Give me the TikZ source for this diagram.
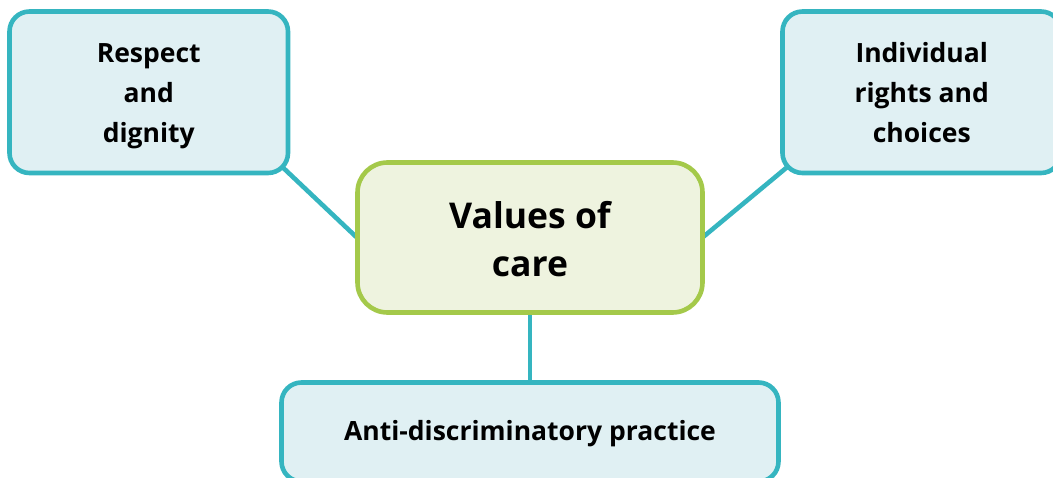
\documentclass[tikz,border=0pt]{standalone}
\usepackage{fontspec}
\setmainfont{Open Sans}
\usetikzlibrary{backgrounds,calc}
\definecolor{teal}{HTML}{35B5C0}
\definecolor{lightteal}{HTML}{E0F0F3}
\definecolor{leaf}{HTML}{A4C94A}
\definecolor{lightleaf}{HTML}{EEF3DF}
\tikzset{
  x=1pt, y=-1pt,
  sidebox/.style={draw=teal, fill=lightteal, line width=4.6pt, rounded corners=20pt,
    inner sep=0pt, outer sep=0pt, align=center,
    font=\fontsize{26.5}{40}\selectfont\bfseries},
  centerbox/.style={draw=leaf, fill=lightleaf, line width=4.6pt, rounded corners=30pt,
    inner sep=0pt, outer sep=0pt, align=center,
    font=\fontsize{35.5}{48}\selectfont\bfseries},
  link/.style={draw=teal, line width=4.6pt}
}
\begin{document}
\begin{tikzpicture}
\useasboundingbox (0,0) rectangle (1053,478);
\node[sidebox, minimum width=278.5pt, minimum height=161.5pt, text height=101.5pt, text depth=0pt] (resp) at (148.75,92.25) {Respect\\and\\dignity};
\node[sidebox, minimum width=278.5pt, minimum height=161.5pt, text height=101.5pt, text depth=0pt] (rights) at (921.75,92.25) {Individual\\rights and\\choices};
\node[centerbox, minimum width=345pt, minimum height=150pt, text height=79pt, text depth=0pt] (values) at (530,237.5) {Values of\\care};
\node[sidebox, minimum width=497pt, minimum height=99pt, text height=18pt, text depth=0pt] (anti) at (530,432) {Anti-discriminatory practice};
\coordinate (respc) at ($(resp.south east)+(-12,-12)$);
\coordinate (rightsc) at ($(rights.south west)+(12,-12)$);
\coordinate (valw) at ($(values.west)+(12,12)$);
\coordinate (vale) at ($(values.east)+(-12,10)$);
\begin{scope}[on background layer]
\draw[link] (respc) -- (valw);
\draw[link] (rightsc) -- (vale);
\draw[link] (values.south) -- (anti.north);
\end{scope}
\end{tikzpicture}
\end{document}
